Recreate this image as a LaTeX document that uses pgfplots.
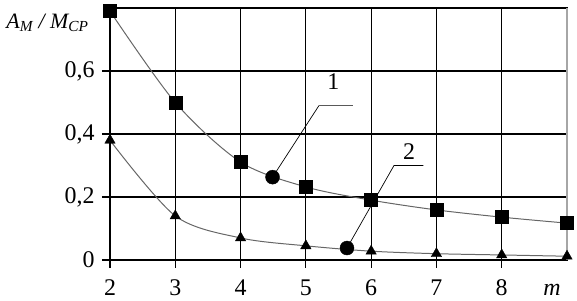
\documentclass[border=0pt]{standalone}
\usepackage{pgfplots}
\pgfplotsset{compat=1.18}
\usepackage{fontspec}
\setmainfont{Liberation Serif}
\begin{document}
\begin{tikzpicture}
\begin{axis}[
  scale only axis,
  width=457bp, height=252bp,
  xmin=2, xmax=9, ymin=0, ymax=0.8,
  xtick={2,3,4,5,6,7,8},
  xticklabels={2,3,4,5,6,7,8},
  ytick={0,0.2,0.4,0.6},
  yticklabels={0,{0,2},{0,4},{0,6}},
  extra x ticks={8.77}, extra x tick labels={\itshape m},
  extra x tick style={grid=none, tick style={draw=none}},
  grid=major,
  grid style={black, line width=1.1pt},
  axis line style={black, line width=1.1pt},
  tick style={black, line width=1.1pt},
  tick align=outside,
  tick pos=left,
  major tick length=8bp,
  ticklabel style={font=\fontsize{24}{28}\selectfont},
  xticklabel style={anchor=base, yshift=-27bp},
  yticklabel style={xshift=-4bp},
  clip=false,
]
\addplot[gray!80!black, line width=1pt, smooth, tension=0.5, mark=square*, mark size=6.5bp, mark options={black, solid, line width=0.4pt}]
 coordinates {(2,0.79)(3,0.5)(4,0.311)(5,0.232)(6,0.19)(7,0.159)(8,0.136)(9,0.117)};
\addplot[gray!80!black, line width=1pt, smooth, tension=0.5, mark=triangle*, mark size=6bp, mark options={black, solid, line width=0.4pt}]
 coordinates {(2,0.38)(3,0.14)(4,0.07)(5,0.045)(6,0.028)(7,0.02)(8,0.016)(9,0.012)};
\addplot[black, line width=0.7pt] coordinates {(4.49,0.263)(5.2,0.49)(5.72,0.49)};
\addplot[black, line width=0.7pt] coordinates {(5.63,0.038)(6.35,0.30)(6.8,0.30)};
\addplot[only marks, mark=*, mark size=7bp, black] coordinates {(4.49,0.263)(5.63,0.038)};
\draw[gray!70, line width=1.1pt] (rel axis cs:1,0) -- (rel axis cs:1,1);
\node[font=\fontsize{24}{28}\selectfont] at (axis cs:5.42,0.565) {1};
\node[font=\fontsize{24}{28}\selectfont] at (axis cs:6.58,0.345) {2};
\node[font=\fontsize{22}{26}\selectfont\itshape, anchor=east] at (rel axis cs:0,0.94) [xshift=-18bp] {A\textsubscript{M} / M\textsubscript{CP}};
\coordinate (ll) at (rel axis cs:0,0);
\coordinate (ur) at (rel axis cs:1,1);
\end{axis}
\pgfresetboundingbox
\path[use as bounding box] ([shift={(-110bp,-41bp)}]ll) rectangle ([shift={(10bp,8bp)}]ur);
\end{tikzpicture}
\end{document}
